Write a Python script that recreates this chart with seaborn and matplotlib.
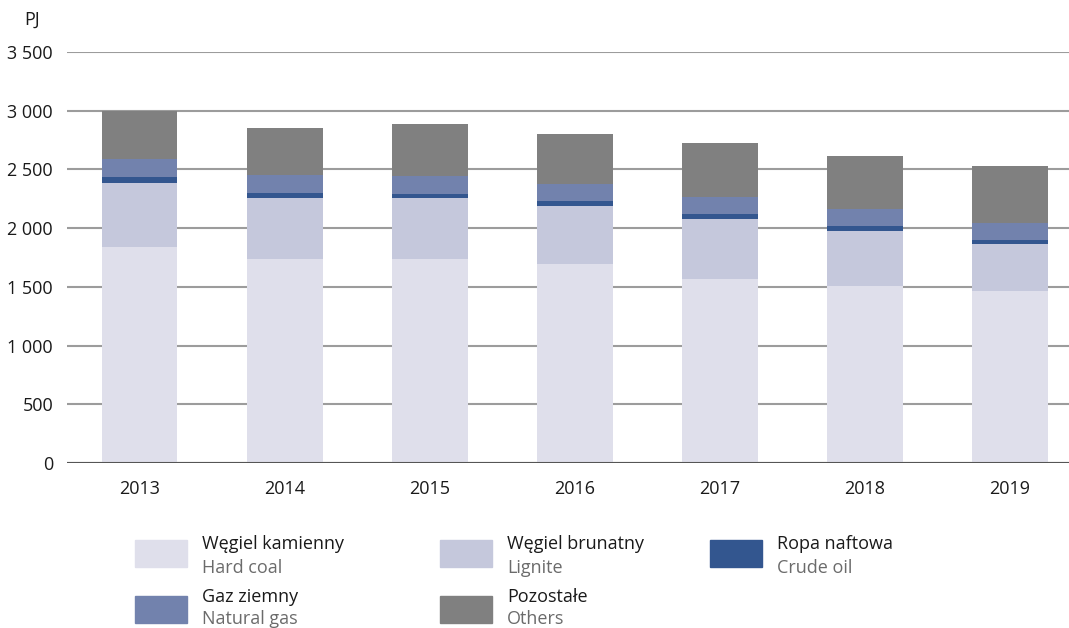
import matplotlib
matplotlib.use("Agg")
import matplotlib.pyplot as plt
from matplotlib.patches import Rectangle
import pandas as pd
import seaborn as sns

years = ["2013", "2014", "2015", "2016", "2017", "2018", "2019"]
hard_coal = [1838, 1736, 1736, 1693, 1564, 1504, 1465]
lignite = [546, 520, 520, 494, 512, 469, 397]
crude_oil = [51, 42, 34, 43, 42, 43, 34]
natural_gas = [151, 151, 153, 145, 145, 145, 147]
others = [414, 403, 444, 425, 461, 452, 485]

labels_pl = ["Węgiel kamienny", "Węgiel brunatny", "Ropa naftowa", "Gaz ziemny", "Pozostałe"]
labels_en = ["Hard coal", "Lignite", "Crude oil", "Natural gas", "Others"]
colors = ["#dfdfeb", "#c5c8dc", "#33568f", "#7282ad", "#808080"]

sns.set_theme(style="white")
plt.rcParams["font.family"] = ["Open Sans", "DejaVu Sans"]
FS = 13

df = pd.DataFrame({"year": years, "hard": hard_coal, "lig": lignite,
                   "oil": crude_oil, "gas": natural_gas, "oth": others})
layers = ["hard", "lig", "oil", "gas", "oth"]
cum = df[layers].cumsum(axis=1)

W, H = 1069, 628
fig = plt.figure(figsize=(W / 100, H / 100), dpi=100)
ax = fig.add_axes([67 / W, 1 - 463 / H, 1 - 67 / W, (463 - 52) / H])

# stacked bars: draw cumulative totals from top layer down
for i in range(len(layers) - 1, -1, -1):
    sns.barplot(x=df["year"], y=cum[layers[i]], color=colors[i], width=0.524,
                saturation=1, errorbar=None, linewidth=0, ax=ax, zorder=2)

ax.set_ylim(0, 3500)
ax.set_xlim(-0.5, 6.41)
yt = list(range(0, 3501, 500))
ax.set_yticks(yt)
ax.set_yticklabels([f"{v:,}".replace(",", " ") for v in yt])
ax.grid(axis="y", color="#9c9c9c", lw=1.5, zorder=0)
ax.set_axisbelow(True)
ax.axhline(0, color="#555555", lw=1.5, zorder=3)
for s in ax.spines.values():
    s.set_visible(False)
ax.tick_params(axis="y", length=0, pad=10, labelsize=FS, labelcolor="#1a1a1a")
ax.tick_params(axis="x", length=0, pad=12, labelsize=FS, labelcolor="#1a1a1a")
ax.set_xlabel("")
ax.set_ylabel("")

fig.text(24 / W, 1 - 25 / H, "PJ", fontsize=FS, color="#1a1a1a", va="baseline")

# legend: patch top, polish baseline, english baseline (pixels from top)
cols_x = [135, 440, 710]
rows_y = [(540, 549, 573), (596, 602, 624)]
for k in range(5):
    r, c = divmod(k, 3)
    px = cols_x[c]
    top, b_pl, b_en = rows_y[r]
    fig.patches.append(Rectangle((px / W, 1 - (top + 27) / H), 52 / W, 27 / H,
                                 transform=fig.transFigure, color=colors[k]))
    fig.text((px + 67) / W, 1 - b_pl / H, labels_pl[k], fontsize=FS,
             color="#1a1a1a", va="baseline")
    fig.text((px + 67) / W, 1 - b_en / H, labels_en[k], fontsize=FS,
             color="#6b6b6b", va="baseline")

fig.savefig("out.png", dpi=100)
